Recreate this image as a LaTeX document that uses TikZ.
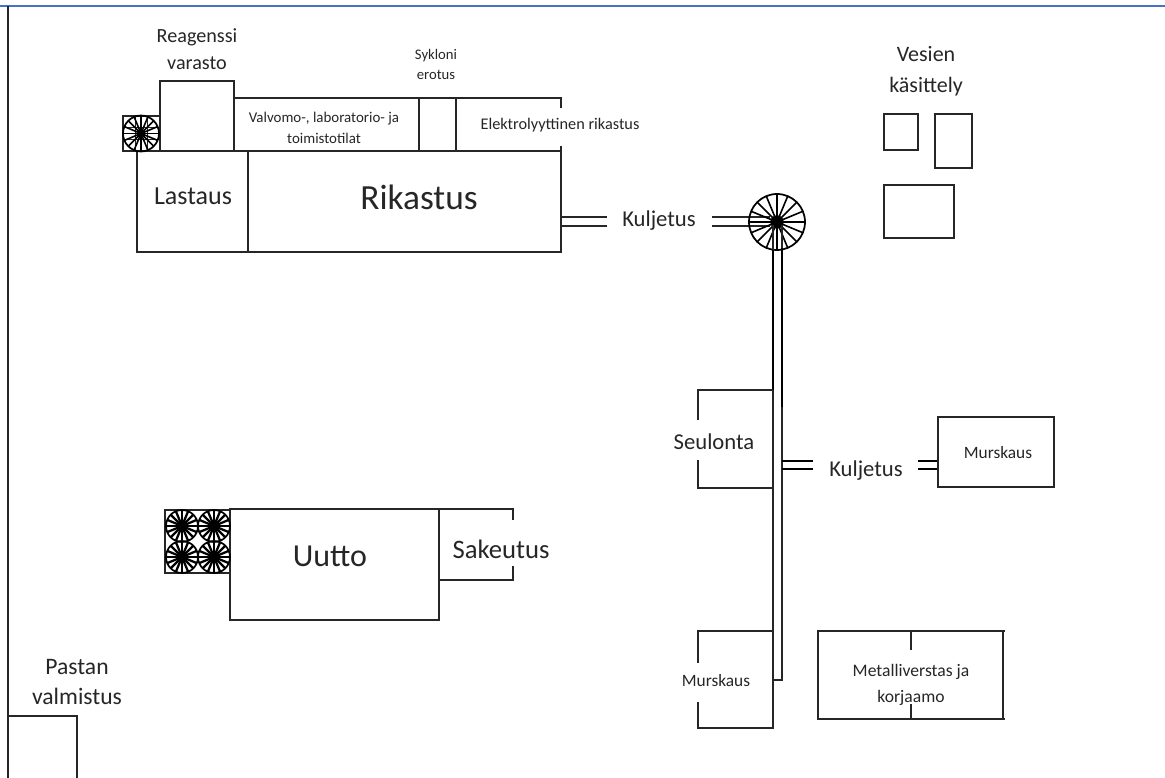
\documentclass[tikz,border=0pt]{standalone}
\usepackage{fontspec}
\setmainfont{Carlito}
\usetikzlibrary{positioning}
\definecolor{FrameBlue}{RGB}{68,114,196}
\definecolor{WallInk}{RGB}{38,38,38}
\tikzset{
  wall/.style={draw=WallInk,line width=1.1pt},
  thickwall/.style={draw=black,line width=2.2pt},
  belt/.style={draw=WallInk,line width=0.9pt},
  spoke/.style={line width=1.2pt},
  hugelabel/.style={align=center,text=WallInk,font=\fontsize{26.5}{30}\selectfont},
  biglabel/.style={align=center,text=WallInk,font=\fontsize{19.5}{24}\selectfont},
  midlabel/.style={align=center,text=WallInk,font=\fontsize{17}{22}\selectfont},
  smalllabel/.style={align=center,text=WallInk,font=\fontsize{11.2}{16}\selectfont},
  tinylabel/.style={align=center,text=WallInk,font=\fontsize{11}{15}\selectfont},
  pics/thickener/.style={code={
    \foreach \ang in {0,22.5,...,337.5}
      \draw[spoke,black] (0,0) -- (\ang:#1);
    \draw[line width=1.3pt,black] (0,0) circle[radius=#1];
    \fill[black] (0,0) circle[radius=0.24*#1];
  }}
}
\begin{document}
\begin{tikzpicture}[x=0.75pt,y=-0.75pt]
  \useasboundingbox (0,0) rectangle (1165,778);
  % frame
  \draw[draw=FrameBlue,line width=1.5pt] (0,6) -- (1165,6);
  \draw[wall] (8,6) -- (8,778);

  % rikastus block
  \draw[wall] (160,151) -- (160,81) -- (234,81) -- (234,151);
  \draw[wall] (234,98) -- (561,98) -- (561,108);
  \draw[wall] (419,98) -- (419,151);
  \draw[wall] (456,98) -- (456,151);
  \draw[wall] (561,146) -- (561,252) -- (137,252) -- (137,151);
  \draw[wall] (123,151) -- (561,151);
  \draw[wall] (248,151) -- (248,252);
  \draw[wall] (123,116) rectangle (160,151);
  \draw[belt,line width=0.5pt] (123,127) -- (160,127) (123,139) -- (160,139)
    (135,116) -- (135,151) (147,116) -- (147,151);
  \pic at (141,133.5) {thickener=18};

  % kuljetus to the big thickener
  \draw[belt] (561,217) -- (607,217) (561,226) -- (607,226);
  \draw[belt] (712,217) -- (770,217) (712,226) -- (770,226);
  \pic at (777,222) {thickener=28};
  \draw[belt] (773,225) -- (773,250) (782,225) -- (782,248);
  \draw[thickwall] (773,250) -- (773,390);
  \draw[thickwall] (782,248) -- (782,407);
  \draw[wall] (773,390) -- (773,729);
  \draw[wall] (782,407) -- (782,680) -- (773,680);

  % seulonta and murskaus
  \draw[wall] (698,420) -- (698,390) -- (773,390);
  \draw[wall] (698,460) -- (698,488) -- (773,488);
  \draw[wall] (698,663) -- (698,631) -- (773,631);
  \draw[wall] (698,702) -- (698,728) -- (773,728);
  \draw[thickwall,line width=1.4pt] (782,461) -- (813,461) (782,469) -- (813,469);
  \draw[thickwall,line width=1.4pt] (918,461) -- (938,461) (918,469) -- (938,469);
  \draw[wall] (938,417) rectangle (1054,487);

  % metalliverstas
  \draw[wall] (1005,631) -- (818,631) -- (818,719) -- (1005,719);
  \draw[wall] (1003,631) -- (1003,719);
  \draw[wall] (911,631) -- (911,650) (911,704) -- (911,719);

  % vesien kasittely
  \draw[wall] (884,114) rectangle (918,150);
  \draw[wall] (935,114) rectangle (972,168);
  \draw[wall] (884,185) rectangle (954,238);

  % uutto block
  \draw[wall] (230,509) rectangle (439,620);
  \draw[wall] (439,509) -- (513,509) -- (513,520);
  \draw[wall] (439,580) -- (513,580) -- (513,566);
  \draw[wall] (165,510) rectangle (230,573);
  \foreach \cx in {182,214}
    \foreach \cy in {526,557}
      \pic[spoke/.style={line width=1.7pt}] at (\cx,\cy) {thickener=16};

  % pastan valmistus
  \draw[wall] (8,716) -- (77,716) -- (77,778);

  % labels
  \node[smalllabel,font=\fontsize{15.1}{20}\selectfont] (reagenssi) at (197,49) {Reagenssi\\varasto};
  \node[tinylabel] (sykloni) at (436,64) {Sykloni\\erotus};
  \node[smalllabel] (valvomo) at (324,128) {Valvomo-, laboratorio- ja\\toimistotilat};
  \node[smalllabel,font=\fontsize{12.2}{16}\selectfont] (elektro) at (560,125) {Elektrolyyttinen rikastus};
  \node[biglabel] (lastaus) at (193,196) {Lastaus};
  \node[hugelabel] (rikastus) at (419,197) {Rikastus};
  \node[midlabel] (kuljetusA) at (659,221) {Kuljetus};
  \node[biglabel,font=\fontsize{16.5}{23}\selectfont] (vesien) at (926,71) {Vesien\\käsittely};
  \node[midlabel] (seulonta) at (714,442) {Seulonta};
  \node[midlabel] (kuljetusB) at (866,471) {Kuljetus};
  \node[smalllabel,font=\fontsize{13}{16}\selectfont] (murskausA) at (998,453) {Murskaus};
  \node[hugelabel,font=\fontsize{24}{28}\selectfont] (uutto) at (330,556) {Uutto};
  \node[biglabel,font=\fontsize{20}{24}\selectfont] (sakeutus) at (501,549) {Sakeutus};
  \node[midlabel,font=\fontsize{17.7}{22.5}\selectfont] (pastan) at (77,682) {Pastan\\valmistus};
  \node[smalllabel,font=\fontsize{13}{16}\selectfont] (murskausB) at (716,681) {Murskaus};
  \node[smalllabel,font=\fontsize{13.2}{19}\selectfont] (metalli) at (911,685) {Metalliverstas ja\\korjaamo};
\end{tikzpicture}
\end{document}
